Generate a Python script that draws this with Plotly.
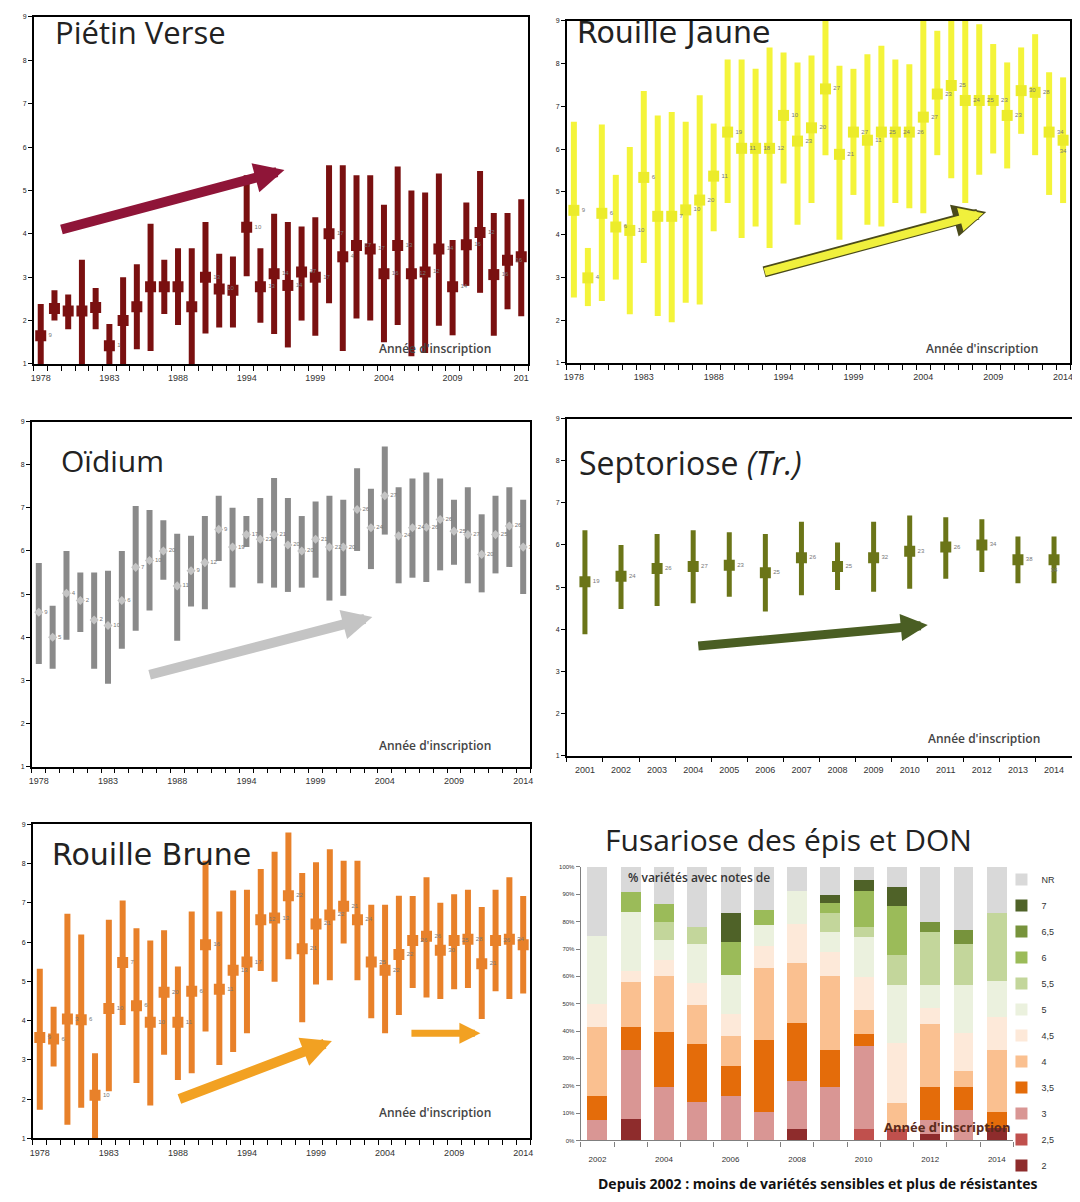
import plotly.graph_objects as go

W, H = 1080, 1202
OFF = 8  # page body margin offset compensation

# ---------------- data ----------------
long_ticktext = ["1978", "1983", "1988", "1994", "1999", "2004", "2009", "2014"]

# Piétin Verse
pv_mean = [1.65, 2.28, 2.22, 2.22, 2.30, 1.42, 2.00, 2.32, 2.78, 2.78, 2.78, 2.32, 3.00, 2.73, 2.70, 4.15, 2.78, 3.08,
           2.81, 3.12, 3.00, 4.00, 3.47, 3.73, 3.65, 3.08, 3.73, 3.08, 3.12, 3.65, 2.78, 3.75, 4.03, 3.06, 3.39, 3.47]
pv_low = [1.00, 2.00, 1.80, 1.00, 1.80, 1.00, 1.00, 1.34, 1.30, 2.15, 1.90, 1.00, 1.70, 1.84, 1.84, 3.02, 1.95, 1.69,
          1.38, 2.00, 1.65, 2.40, 1.30, 2.05, 2.00, 1.50, 1.90, 1.18, 1.25, 1.88, 1.66, 2.80, 2.64, 1.65, 2.26, 2.10]
pv_high = [2.38, 2.70, 2.60, 3.40, 2.75, 1.92, 3.00, 3.30, 4.23, 3.40, 3.67, 3.67, 4.27, 3.54, 3.48, 5.35, 3.67, 4.46,
           4.27, 4.17, 4.38, 5.58, 5.58, 5.35, 5.35, 4.67, 5.55, 5.00, 4.95, 5.39, 3.86, 4.72, 5.45, 4.48, 4.48, 4.80]
pv_n = [9, None, None, None, None, 1, None, None, None, None, None, None, 13, 10, None, 10, 13, 14,
        14, 17, 17, 17, 4, 17, 17, 16, 13, 12, 12, 14, 14, 16, 12, 16, 16, 16]

# Rouille Jaune
rj_mean = [4.57, 2.99, 4.50, 4.18, 4.10, 5.34, 4.43, 4.43, 4.58, 4.81, 5.37, 6.40, 6.02, 6.02, 6.02, 6.79, 6.19, 6.50,
           7.41, 5.88, 6.40, 6.21, 6.40, 6.40, 6.40, 6.75, 7.29, 7.49, 7.14, 7.14, 7.14, 6.79, 7.37, 7.33, 6.40, 6.21]
rj_low = [2.53, 2.33, 2.45, 2.95, 2.14, 3.34, 2.10, 1.95, 2.41, 2.37, 4.08, 4.74, 3.92, 4.19, 3.69, 5.20, 4.23, 4.74,
          5.86, 3.88, 4.93, 4.23, 4.19, 4.74, 4.62, 4.50, 5.86, 5.32, 4.74, 5.40, 5.90, 5.55, 6.36, 5.86, 4.93, 4.74]
rj_high = [6.64, 3.69, 6.58, 5.40, 6.05, 7.36, 6.79, 6.87, 6.64, 7.26, 6.60, 8.10, 8.10, 7.88, 8.38, 8.26, 8.03, 8.19,
           9.00, 7.95, 7.88, 8.22, 8.42, 8.10, 7.99, 9.00, 8.77, 9.00, 9.00, 8.92, 8.46, 8.03, 8.38, 8.69, 7.80, 7.68]
rj_n = [9, 4, 6, 6, 10, 6, None, 7, 10, 20, 11, 19, 11, 18, 12, 10, 23, 20,
        27, 21, 27, 11, 25, 24, 26, 27, 23, 25, 24, 25, 23, 23, 30, 28, 34, 34]

# Oïdium
oi_mean = [4.58, 4.00, 5.02, 4.85, 4.40, 4.27, 4.85, 5.62, 5.78, 6.00, 5.19, 5.54, 5.73, 6.50, 6.09, 6.38, 6.27, 6.38,
           6.14, 6.00, 6.27, 6.09, 6.09, 6.96, 6.54, 7.28, 6.35, 6.54, 6.55, 6.73, 6.46, 6.38, 5.92, 6.38, 6.58, 6.09]
oi_low = [3.38, 3.27, 3.94, 4.12, 3.27, 2.92, 3.73, 4.15, 4.62, 5.33, 3.92, 4.71, 4.65, 5.77, 5.15, 6.09, 5.25, 5.15,
          5.05, 5.15, 5.38, 4.85, 4.96, 6.00, 5.58, 6.38, 5.25, 5.38, 5.28, 5.55, 5.68, 5.25, 5.04, 5.48, 5.63, 5.00]
oi_high = [5.72, 4.73, 6.00, 5.50, 5.50, 5.54, 6.00, 7.04, 6.95, 6.71, 6.40, 6.35, 6.81, 7.28, 7.00, 6.81, 7.23, 7.69,
           7.23, 6.81, 7.15, 7.28, 7.19, 7.92, 7.44, 8.42, 7.48, 7.68, 7.82, 7.68, 7.19, 7.48, 6.85, 7.28, 7.48, 7.19]
oi_n = [9, 5, 4, 2, 2, 10, 6, 7, 10, 20, 11, 9, 12, 9, 19, 17, 22, 21,
        20, 20, 21, 22, 20, 26, 24, 27, 24, 24, 26, 26, 25, 27, 20, 25, 26, 34]

# Septoriose (Tr.)
st_years = ["2001", "2002", "2003", "2004", "2005", "2006", "2007", "2008", "2009", "2010", "2011", "2012", "2013", "2014"]
st_mean = [5.13, 5.26, 5.44, 5.49, 5.52, 5.34, 5.70, 5.49, 5.70, 5.85, 5.95, 6.00, 5.65, 5.65]
st_low = [3.88, 4.48, 4.55, 4.62, 4.77, 4.42, 4.81, 4.93, 4.89, 4.96, 5.20, 5.36, 5.09, 5.09]
st_high = [6.35, 6.00, 6.26, 6.35, 6.30, 6.26, 6.55, 6.06, 6.55, 6.70, 6.66, 6.61, 6.20, 6.20]
st_n = [19, 24, 26, 27, 23, 25, 26, 25, 32, 23, 26, 34, 38, 34]

# Rouille Brune
rb_mean = [3.57, 3.53, 4.04, 4.02, 2.10, 4.31, 5.48, 4.38, 3.96, 4.72, 3.96, 4.75, 5.93, 4.80, 5.28, 5.49, 6.57, 6.61,
           7.18, 5.83, 6.46, 6.69, 6.91, 6.57, 5.49, 5.28, 5.68, 6.04, 6.15, 5.79, 6.04, 6.07, 5.45, 6.04, 6.07, 5.93]
rb_low = [1.73, 2.83, 1.35, 1.78, 1.00, 2.20, 3.89, 2.41, 1.84, 3.13, 2.49, 2.66, 3.72, 2.87, 3.20, 3.68, 5.26, 4.99,
          5.56, 3.96, 4.92, 5.03, 5.96, 5.03, 4.06, 3.68, 4.14, 4.83, 4.59, 4.55, 4.80, 4.83, 4.04, 4.75, 4.55, 4.69]
rb_high = [5.32, 4.35, 6.72, 6.19, 3.17, 6.57, 7.06, 6.35, 6.04, 6.30, 5.38, 6.78, 8.07, 6.78, 7.31, 7.33, 7.86, 8.30,
           8.79, 7.76, 8.03, 8.36, 8.07, 8.07, 6.95, 6.95, 7.18, 7.17, 7.65, 7.00, 7.22, 7.33, 6.89, 7.33, 7.65, 7.17]
rb_n = [9, 6, 3, 6, 10, 10, 7, 6, 10, 20, 11, 6, 16, 11, 13, 17, 12, 13,
        22, 21, 21, 22, 21, 24, 25, 22, 22, 26, 26, 30, 25, 28, 21, 26, 34, 34]

# Fusariose des épis et DON (% of varieties per note)
fu_years = [2002, 2003, 2004, 2005, 2006, 2007, 2008, 2009, 2010, 2011, 2012, 2013, 2014]
fu_n2 = [0, 8, 0, 0, 0, 0, 4.2, 0, 0, 0, 2.4, 0, 4.5]
fu_n25 = [0, 0, 0, 0, 0, 0, 0, 0, 4, 4, 0, 0, 0]
fu_n3 = [7.6, 25, 19.6, 14.2, 16.4, 10.3, 17.6, 19.6, 30.4, 0, 5.1, 11.2, 0]
fu_n35 = [8.8, 8.5, 20, 21, 10.9, 26.3, 21.2, 13.5, 4.4, 0, 12.1, 8.4, 6]
fu_n4 = [25, 16.5, 20.4, 14.5, 10.9, 26.4, 22, 26.9, 8.8, 9.7, 22.8, 5.6, 22.6]
fu_n45 = [8.5, 4, 6, 8, 8, 8, 14, 9, 12, 22, 6, 14, 12]
fu_n5 = [25, 21.5, 7.3, 14, 14.4, 7.8, 12.2, 7.4, 14.9, 21.3, 8.6, 17.8, 13.1]
fu_n55 = [0, 0, 6.7, 6.4, 0, 0, 0, 6.9, 3.7, 10.9, 19.4, 14.8, 25.1]
fu_n6 = [0, 7.5, 6.3, 0, 11.9, 5.4, 0, 3.4, 13, 17.8, 0, 0, 0]
fu_n65 = [0, 0, 0, 0, 0, 0, 0, 0, 0, 0, 3.6, 5.2, 0]
fu_n7 = [0, 0, 0, 0, 10.5, 0, 0, 3, 4.2, 7, 0, 0, 0]
fu_nr = [25, 9, 13.7, 21.8, 17, 15.8, 8.8, 10.3, 4.6, 7.3, 20, 23, 16.7]
fu_colors = ["#8e2c2c", "#c0504d", "#d99694", "#e46c0a", "#fac090", "#fde9d9",
             "#ebf1de", "#c3d69b", "#9bbb59", "#77933c", "#4f6228", "#d9d9d9"]
fu_legend_labels = ["2", "2,5", "3", "3,5", "4", "4,5", "5", "5,5", "6", "6,5", "7", "NR"]


# ---------------- helpers ----------------
def px_x(p):
    return (p - OFF) / W


def px_y(p):
    return 1 - (p - OFF) / H


def dom_x(a, b):
    return [px_x(a), px_x(b)]


def dom_y(top, bottom):
    return [px_y(bottom), px_y(top)]


TICKFONT = dict(family="Liberation Sans", size=9, color="#333")

fig = go.Figure()
layout = dict(width=W, height=H, margin=dict(l=0, r=0, t=0, b=0),
              paper_bgcolor="white", plot_bgcolor="white", showlegend=True,
              barmode="stack", annotations=[])

panels = [
    dict(k="", xd=(31, 528), yd=(13, 362), m=pv_mean, lo=pv_low, hi=pv_high, n=pv_n, c="#7a1010", mc="#7a1010",
         sym="square", ms=11, th=6, nlab=36, ttext=["1978", "1983", "1988", "1994", "1999", "2004", "2009", "201"]),
    dict(k="2", xd=(567, 1073), yd=(17, 361), m=rj_mean, lo=rj_low, hi=rj_high, n=rj_n, c="#f4f43a", mc="#ecec2a",
         sym="square", ms=11, th=6, nlab=36, ttext=long_ticktext),
    dict(k="3", xd=(29, 530), yd=(420, 767), m=oi_mean, lo=oi_low, hi=oi_high, n=oi_n, c="#8a8a8a", mc="#c4c4c4",
         sym="diamond", ms=7, th=6, nlab=36, ttext=long_ticktext),
    dict(k="4", xd=(567, 1075), yd=(417, 756), m=st_mean, lo=st_low, hi=st_high, n=st_n, c="#6b7518", mc="#6b7518",
         sym="square", ms=11, th=5, nlab=14, ttext=st_years),
    dict(k="5", xd=(30, 530), yd=(825, 1141), m=rb_mean, lo=rb_low, hi=rb_high, n=rb_n, c="#e8812a", mc="#e8812a",
         sym="square", ms=11, th=6, nlab=36, ttext=long_ticktext),
]

overlay_id = 7
for p in panels:
    k = p["k"]
    ncat = p["nlab"]
    xs = list(range(ncat))
    means = p["m"]
    plus = [h - m for h, m in zip(p["hi"], means)]
    minus = [m - l for m, l in zip(means, p["lo"])]
    texts = ["" if v is None else str(v) for v in p["n"]]
    tpos = ["middle right"] * ncat
    if k in ("2", "4"):
        tpos[-1] = "bottom center"
    fig.add_trace(go.Scatter(
        x=xs, y=means, mode="markers+text", text=texts, textposition=tpos,
        textfont=dict(family="Liberation Sans", size=6, color="#777"),
        marker=dict(symbol=p["sym"], size=p["ms"], color=p["mc"], line=dict(width=0)),
        error_y=dict(type="data", symmetric=False, array=plus, arrayminus=minus,
                     thickness=p["th"], width=0, color=p["c"]),
        xaxis="x" + k, yaxis="y" + k, showlegend=False, cliponaxis=True, hoverinfo="skip"))
    if ncat == 36:
        tv = [0, 5, 10, 15, 20, 25, 30, 35]
    else:
        tv = list(range(14))
    bounds = [i - 0.5 for i in range(ncat + 1)]
    layout["xaxis" + k] = dict(
        domain=dom_x(*p["xd"]), range=[-0.5, ncat - 0.5], anchor="y" + k,
        tickmode="array", tickvals=tv, ticktext=p["ttext"], ticks="outside", ticklen=5,
        tickcolor="rgba(0,0,0,0)", tickfont=TICKFONT,
        showline=True, mirror=True, linecolor="black", linewidth=1.5,
        showgrid=False, zeroline=False,
        minor=dict(tickmode="array", tickvals=bounds,
                   ticks="outside", ticklen=5, tickcolor="black", tickwidth=1.3, showgrid=False))
    layout["yaxis" + k] = dict(
        domain=dom_y(*p["yd"]), range=[1, 9], anchor="x" + k,
        tickmode="array", tickvals=list(range(1, 10)), ticks="outside", ticklen=4,
        tickcolor="black", tickwidth=1.3,
        tickfont=dict(family="Liberation Sans", size=7, color="#222"),
        showline=True, mirror=True, linecolor="black", linewidth=1.5,
        showgrid=False, zeroline=False)
    # overlay axes drawing the inner half of the crossing tick marks
    ox = str(overlay_id)
    layout["xaxis" + ox] = dict(
        overlaying="x" + k, domain=dom_x(*p["xd"]), range=[-0.5, ncat - 0.5], anchor="y" + k,
        side="bottom", tickmode="array", tickvals=bounds, ticks="inside", ticklen=4,
        tickcolor="black", tickwidth=1.3, showticklabels=False, showline=False,
        showgrid=False, zeroline=False)
    layout["yaxis" + ox] = dict(
        overlaying="y" + k, domain=dom_y(*p["yd"]), range=[1, 9], anchor="x" + k,
        side="left", tickmode="array", tickvals=list(range(1, 10)), ticks="inside", ticklen=4,
        tickcolor="black", tickwidth=1.3, showticklabels=False, showline=False,
        showgrid=False, zeroline=False)
    overlay_id += 1

# Fusariose stacked bars (bottom to top)
fu_series = [fu_n2, fu_n25, fu_n3, fu_n35, fu_n4, fu_n45, fu_n5, fu_n55, fu_n6, fu_n65, fu_n7, fu_nr]
nser = len(fu_series)
for i, (name, vals, col) in enumerate(zip(fu_legend_labels, fu_series, fu_colors)):
    fig.add_trace(go.Bar(x=fu_years, y=vals, name=name, marker=dict(color=col, line=dict(width=0)),
                         width=0.6, xaxis="x6", yaxis="y6", legendgroup=name, legendrank=nser - i,
                         hoverinfo="skip"))

layout["xaxis6"] = dict(domain=dom_x(581, 1016), range=[2001.5, 2014.5], anchor="y6",
                        tickmode="array", tickvals=[2002, 2004, 2006, 2008, 2010, 2012, 2014],
                        ticks="outside", ticklen=11, tickcolor="rgba(0,0,0,0)",
                        tickfont=dict(family="Liberation Sans", size=8, color="#333"),
                        showline=True, linecolor="#7f7f7f", linewidth=1.3, showgrid=False, zeroline=False,
                        minor=dict(tickmode="array", tickvals=[2001.5 + i for i in range(14)],
                                   ticks="outside", ticklen=5, tickcolor="#7f7f7f", showgrid=False))
layout["yaxis6"] = dict(domain=dom_y(868, 1143), range=[0, 100], anchor="x6",
                        tickmode="array", tickvals=list(range(0, 101, 10)),
                        ticktext=[f"{v}%" for v in range(0, 101, 10)],
                        ticks="outside", ticklen=4, tickcolor="#7f7f7f",
                        tickfont=dict(family="Liberation Sans", size=6, color="#333"),
                        showline=True, linecolor="#7f7f7f", linewidth=1.3, showgrid=False, zeroline=False)

layout["legend"] = dict(x=px_x(1004), y=px_y(866), xanchor="left", yanchor="top",
                        traceorder="grouped", tracegroupgap=7,
                        font=dict(family="Liberation Sans", size=9, color="#333"),
                        bgcolor="rgba(0,0,0,0)", itemwidth=30)

ann = layout["annotations"]


def text_ann(txt, x, y, size, family="Open Sans", color="#222", xanchor="left", weight=None):
    f = dict(family=family, size=size, color=color)
    if weight:
        f["weight"] = weight
    ann.append(dict(text=txt, x=px_x(x), y=px_y(y), xref="paper", yref="paper", showarrow=False,
                    xanchor=xanchor, yanchor="middle", font=f))


# panel titles
text_ann("Piétin Verse", 50, 28, 31)
text_ann("Rouille Jaune", 575, 29, 30, family="DejaVu Sans")
text_ann("Oïdium", 56, 459, 30)
text_ann("Septoriose <i>(Tr.)</i>", 577, 461, 32)
text_ann("Rouille Brune", 47, 855, 30, family="DejaVu Sans")
text_ann("Fusariose des épis et DON", 790, 840, 30, xanchor="center")
text_ann("Depuis 2002 : moins de variétés sensibles et plus de résistantes", 820, 1186, 14,
         xanchor="center", weight="bold", color="#111")
text_ann("% variétés avec notes de", 626, 879, 12, color="#333", weight=600)

# "Année d'inscription" labels
for (x, y) in [(376, 346), (926, 346), (376, 746), (928, 739), (376, 1115)]:
    text_ann("Année d'inscription", x, y, 12, color="#444", weight=600)
text_ann("Année d'inscription", 884, 1130, 13, color="#5a2a1a", weight="bold")


def arrow(k, x0, y0, x1, y1, color, width, size=0.6, head=2):
    ann.append(dict(text="", x=x1, y=y1, ax=x0, ay=y0, xref="x" + k, yref="y" + k,
                    axref="x" + k, ayref="y" + k, showarrow=True, arrowhead=head,
                    arrowsize=size, arrowwidth=width, arrowcolor=color, standoff=0, startstandoff=0))


arrow("", 1.4, 4.09, 17.75, 5.47, "#8f1538", 10)
arrow("2", 13.5, 3.12, 29.5, 4.53, "#4a4a1a", 11)
arrow("2", 13.55, 3.12, 29.3, 4.50, "#f0f03c", 8)
arrow("3", 7.9, 3.12, 24.1, 4.47, "#c4c4c4", 10)
arrow("4", 3.1, 3.6, 9.5, 4.1, "#4a5e23", 9)
arrow("5", 10.0, 1.99, 21.15, 3.48, "#f2a122", 10)
arrow("5", 26.8, 3.68, 31.9, 3.68, "#f2a122", 7)

fig.update_layout(**layout)
fig.write_html("out.html")
